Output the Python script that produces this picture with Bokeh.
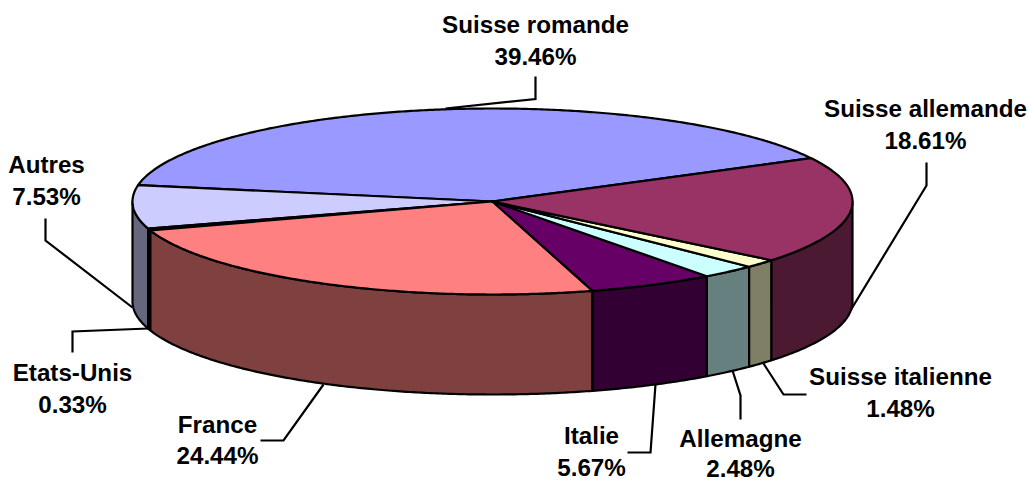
import math
from bokeh.plotting import figure
from bokeh.models import Range1d, ColumnDataSource
from bokeh.core.properties import value
from bokeh.embed import file_html
from bokeh.resources import INLINE

# data (counter-clockwise from the first slice)
categories = ["Suisse romande", "Autres", "Etats-Unis", "France", "Italie",
              "Allemagne", "Suisse italienne", "Suisse allemande"]
shares = [39.46, 7.53, 0.33, 24.44, 5.67, 2.48, 1.48, 18.61]
colors = ["#9999FF", "#CCCCFF", "#0066CC", "#FF8080", "#660066",
          "#CCFFFF", "#FFFFCC", "#993366"]

# layout (page pixels)
CX, CY, RX, RY, DEPTH = 492, 201, 360, 93, 100
START = 27.8
LW = 2.2
FONT_PX = 24.2
TEXT_SHIFT = -9
label_x = [535, 46, 72, 217, 591, 740, 900, 925]
label_y = [[33, 65], [173, 205], [381, 413], [433, 464], [444, 476], [447, 476.5], [385, 417], [117, 149]]
leader_x = [[535, 535, 445], [45, 45, 132], [72, 72, 148], [260, 283, 323],
            [627, 650, 655], [740, 740, 732], [806, 783, 763], [926, 926, 850]]
leader_y = [[76, 98.5, 108], [218, 240, 307], [352, 331, 328], [440, 440, 384],
            [452, 452, 384], [419, 395, 370], [394, 394, 363], [162, 185, 310]]


def darken(c):
    return "#" + "".join(f"{int(int(c[i:i+2], 16) * 0.5):02X}" for i in (1, 3, 5))


def arc(a0, a1):
    n = max(2, int(abs(a1 - a0) * 2) + 2)
    ts = [a0 + (a1 - a0) * i / (n - 1) for i in range(n)]
    return ([CX + RX * math.cos(math.radians(t)) for t in ts],
            [CY - RY * math.sin(math.radians(t)) for t in ts])


top_x, top_y, side_x, side_y, side_c = [], [], [], [], []
a = START
for share, col in zip(shares, colors):
    b = a + share * 3.6
    xs, ys = arc(a, b)
    top_x.append([CX] + xs)
    top_y.append([CY] + ys)
    # visible wall: the part of the rim in the front half (180..360 degrees)
    s, e = max(a, 180), min(b, 360)
    if e > s:
        xs, ys = arc(s, e)
        side_x.append(xs + xs[::-1])
        side_y.append(ys + [y + DEPTH for y in ys[::-1]])
        side_c.append(darken(col))
    a = b

p = figure(width=1029, height=480, x_range=Range1d(0, 1029), y_range=Range1d(480, 0),
           output_backend="svg", toolbar_location=None, min_border=0,
           border_fill_color=None, background_fill_color=None, outline_line_color=None)
p.axis.visible = False
p.grid.visible = False

for xs, ys in zip(leader_x, leader_y):
    p.line(xs, ys, line_color="black", line_width=LW, line_join="miter")

p.patches(side_x, side_y, fill_color=side_c, line_color="black", line_width=LW, line_join="round")
p.patches(top_x, top_y, fill_color=colors, line_color="black", line_width=LW, line_join="round")

src = ColumnDataSource(dict(
    x=label_x * 2,
    y=[v[0] + TEXT_SHIFT for v in label_y] + [v[1] + TEXT_SHIFT for v in label_y],
    t=categories + [f"{s:.2f}%" for s in shares],
))
p.text("x", "y", text="t", source=src, text_font=value("Liberation Sans"), text_font_style="bold",
       text_font_size=f"{FONT_PX}px", text_align="center", text_baseline="alphabetic", text_color="black")

open("out.html", "w").write(file_html(p, INLINE))
